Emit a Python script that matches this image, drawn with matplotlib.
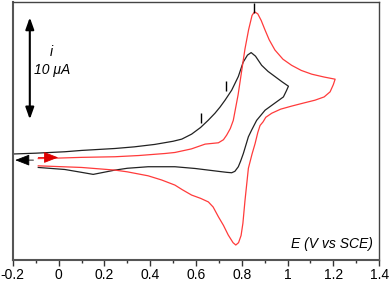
import matplotlib
matplotlib.use("Agg")
import matplotlib.pyplot as plt
from matplotlib.ticker import MultipleLocator

plt.rcParams['font.family'] = ['Liberation Sans', 'DejaVu Sans']

# black CV (potential in V vs SCE, current in uA)
black_E = [-0.2, -0.1, 0.027, 0.1, 0.246, 0.33, 0.42, 0.5, 0.538, 0.581, 0.62, 0.653,
           0.683, 0.705, 0.727, 0.756, 0.785, 0.806, 0.825, 0.841, 0.86, 0.887, 0.915,
           0.945, 0.975, 1.004,
           0.995, 0.982, 0.945, 0.902, 0.865, 0.843, 0.829, 0.807, 0.795, 0.785, 0.77,
           0.756, 0.735, 0.712, 0.654, 0.596, 0.508, 0.391, 0.3, 0.246, 0.151, 0.1,
           0.027, -0.089]
black_i = [0.6, 0.68, 0.82, 0.95, 1.14, 1.3, 1.54, 1.85, 2.06, 2.55, 3.2, 3.9,
           4.6, 5.2, 5.88, 6.86, 8.2, 9.6, 10.3, 10.55, 10.2, 9.3, 8.7,
           8.2, 7.7, 7.25,
           6.8, 6.2, 5.6, 4.9, 3.9, 2.94, 2.29, 0.65, -0.1, -0.65, -1.1,
           -1.24, -1.2, -1.14, -0.98, -0.82, -0.65, -0.65, -0.8, -0.98, -1.4, -1.2,
           -0.92, -0.72]

# red CV
red_E = [-0.089, 0.0, 0.1, 0.246, 0.35, 0.465, 0.508, 0.58, 0.64, 0.698, 0.72, 0.734,
         0.75, 0.763, 0.784, 0.80, 0.814, 0.83, 0.845, 0.856, 0.87, 0.885, 0.902, 0.92,
         0.945, 0.98, 1.018, 1.06, 1.106, 1.16, 1.208,
         1.2, 1.186, 1.16, 1.12, 1.07, 1.018, 0.97, 0.931, 0.905, 0.893, 0.88, 0.87,
         0.858, 0.845, 0.829, 0.814, 0.805, 0.797, 0.786, 0.774, 0.762, 0.741, 0.72,
         0.698, 0.675, 0.654, 0.62, 0.581, 0.54, 0.508, 0.45, 0.391, 0.3, 0.246, 0.1,
         -0.089]
red_i = [0.15, 0.2, 0.27, 0.33, 0.45, 0.65, 0.75, 1.1, 1.57, 1.7, 2.0, 2.45,
         3.1, 3.9, 6.4, 8.8, 10.9, 12.8, 14.2, 14.55, 14.35, 13.7, 12.75, 11.8,
         10.8, 9.9, 9.3, 8.8, 8.43, 8.15, 7.94,
         7.4, 6.7, 6.2, 5.88, 5.6, 5.3, 5.0, 4.6, 4.2, 3.75, 3.4, 2.7,
         1.6, 0.6, -0.8, -4.0, -6.2, -7.4, -8.1, -8.33, -8.1, -7.35, -6.4,
         -5.56, -4.6, -4.1, -3.75, -3.43, -2.9, -2.45, -1.95, -1.54, -1.15, -0.98, -0.72,
         -0.56]

# peak markers
mark_E = [0.62, 0.731, 0.855]
mark_i = [4.1, 7.25, 14.9]

xticks = [-0.2, 0, 0.2, 0.4, 0.6, 0.8, 1, 1.2, 1.4]
xticklabels = ['-0.2', '0', '0.2', '0.4', '0.6', '0.8', '1', '1.2', '1.4']

fig = plt.figure(figsize=(3.9, 2.84), dpi=100)
ax = fig.add_axes([0.033, 0.0845, 0.939, 0.908])

ax.plot(black_E, black_i, color='#222222', lw=0.9)
ax.plot(red_E, red_i, color='#ff3b3b', lw=0.9)
ax.plot(mark_E, mark_i, ls='none', marker='|', ms=7, mew=1.0, color='black')

# scan direction arrows
ax.annotate('', xy=(-0.19, 0.0), xytext=(-0.11, 0.0),
            arrowprops=dict(arrowstyle='-|>,head_length=0.9,head_width=0.35',
                            color='black', lw=0.6, shrinkA=0, shrinkB=0))
ax.annotate('', xy=(-0.002, 0.26), xytext=(-0.089, 0.26),
            arrowprops=dict(arrowstyle='-|>,head_length=0.9,head_width=0.35',
                            color='#dd0000', lw=0.6, shrinkA=0, shrinkB=0))

# current scale bar
ax.annotate('', xy=(-0.126, 14.0), xytext=(-0.126, 4.0),
            arrowprops=dict(arrowstyle='<|-|>,head_length=0.7,head_width=0.25',
                            color='black', lw=1.5, shrinkA=0, shrinkB=0))
ax.text(-0.03, 10.6, 'i', fontsize=10, style='italic', ha='center', va='center')
ax.text(-0.03, 8.8, '10 \u03bcA', fontsize=10, style='italic', ha='center', va='center')

ax.text(0.984, 0.035, 'E (V vs SCE)', transform=ax.transAxes, fontsize=10,
        style='italic', ha='right', va='bottom')

ax.set_xlim(-0.2, 1.4)
ax.set_ylim(-9.8, 15.5)
ax.set_xticks(xticks)
ax.set_xticklabels(xticklabels)
ax.xaxis.set_minor_locator(MultipleLocator(0.1))
ax.tick_params(axis='x', direction='out', length=4, width=1, labelsize=10, pad=2,
               colors='#333333', labelcolor='black')
ax.tick_params(axis='x', which='minor', direction='out', length=2.5, width=1,
               colors='#333333')
ax.set_yticks([])

for side in ['left', 'bottom']:
    ax.spines[side].set_linewidth(1.5)
    ax.spines[side].set_color('#555555')
for side in ['top', 'right']:
    ax.spines[side].set_linewidth(1.0)
    ax.spines[side].set_color('#444444')

fig.savefig('out.png', dpi=100)
